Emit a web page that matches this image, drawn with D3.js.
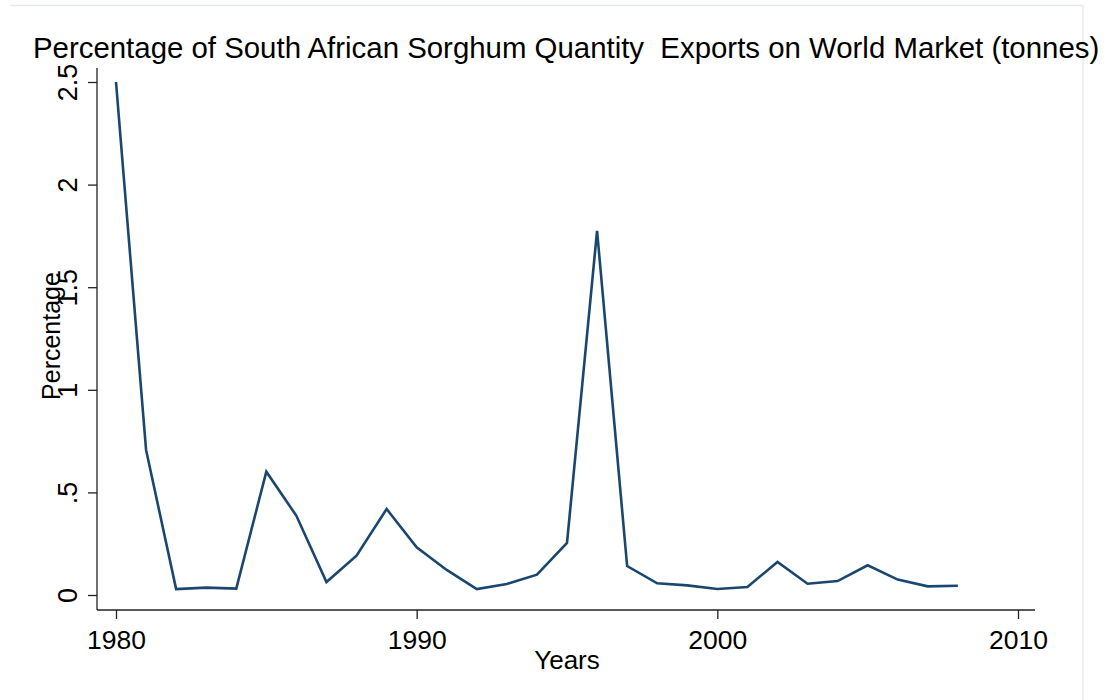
<!DOCTYPE html>
<html>
<head>
<meta charset="utf-8">
<script src="https://cdn.jsdelivr.net/npm/d3@7/dist/d3.min.js"></script>
<style>
  html, body { margin: 0; padding: 0; background: #fff; }
  svg { display: block; font-family: Arial, "Liberation Sans", sans-serif; }
  text { white-space: pre; }
</style>
</head>
<body>
<svg id="chart" width="1107" height="700"></svg>
<script>
// South African sorghum exports as a share of world exports (%), 1980-2008
const years = [1980, 1981, 1982, 1983, 1984, 1985, 1986, 1987, 1988, 1989,
               1990, 1991, 1992, 1993, 1994, 1995, 1996, 1997, 1998, 1999,
               2000, 2001, 2002, 2003, 2004, 2005, 2006, 2007, 2008];
const percentage = [2.50, 0.707, 0.029, 0.036, 0.031, 0.601, 0.386, 0.063, 0.192, 0.419,
                    0.232, 0.122, 0.029, 0.054, 0.099, 0.254, 1.775, 0.141, 0.057, 0.047,
                    0.029, 0.039, 0.161, 0.055, 0.068, 0.145, 0.075, 0.042, 0.045];
const xTicks = [1980, 1990, 2000, 2010];
const yTicks = [0, 0.5, 1, 1.5, 2, 2.5];
const yTickLabels = ["0", ".5", "1", "1.5", "2", "2.5"];

const titleText = "Percentage of South African Sorghum Quantity  Exports on World Market (tonnes)";
const xTitle = "Years";
const yTitle = "Percentage";

const svg = d3.select("#chart");

// faint outer frame of the graph region
svg.append("line").attr("x1", 10).attr("x2", 1083).attr("y1", 5.5).attr("y2", 5.5)
  .attr("stroke", "#e3ebf0").attr("stroke-width", 1.5);
svg.append("line").attr("x1", 1083).attr("x2", 1083).attr("y1", 5).attr("y2", 700)
  .attr("stroke", "#e3ebf0").attr("stroke-width", 1.5);

const x = d3.scaleLinear().domain([1980, 2010]).range([116, 1018]);
const y = d3.scaleLinear().domain([0, 2.5]).range([595, 82]);

const axisX = 97;   // position of the y axis line
const axisY = 610;  // position of the x axis line

// x axis
const gx = svg.append("g").attr("transform", `translate(0,${axisY})`);
gx.append("line").attr("x1", axisX).attr("x2", 1035).attr("y1", 0).attr("y2", 0)
  .attr("stroke", "#222").attr("stroke-width", 1.3);
gx.call(d3.axisBottom(x).tickValues(xTicks).tickFormat(d3.format("d")).tickSize(9).tickPadding(11))
  .call(g => g.select(".domain").remove())
  .call(g => g.selectAll(".tick line").attr("stroke", "#222").attr("stroke-width", 1.3))
  .call(g => g.selectAll(".tick text").attr("font-size", 26.5).attr("fill", "#000")
    .attr("font-family", "Arial, 'Liberation Sans', sans-serif"));

// y axis
const gy = svg.append("g").attr("transform", `translate(${axisX},0)`);
gy.append("line").attr("x1", 0).attr("x2", 0).attr("y1", 68).attr("y2", axisY)
  .attr("stroke", "#222").attr("stroke-width", 1.3);
gy.call(d3.axisLeft(y).tickValues(yTicks).tickFormat((d, i) => yTickLabels[i]).tickSize(9).tickPadding(0))
  .call(g => g.select(".domain").remove())
  .call(g => g.selectAll(".tick line").attr("stroke", "#222").attr("stroke-width", 1.3))
  .call(g => g.selectAll(".tick text")
    .attr("font-size", 27).attr("fill", "#000")
    .attr("font-family", "Arial, 'Liberation Sans', sans-serif")
    .attr("x", 0).attr("dy", null)
    .attr("text-anchor", "middle")
    .attr("transform", "translate(-20,0) rotate(-90)"));

// data line
const line = d3.line()
  .x((d, i) => x(years[i]))
  .y(d => y(d));
svg.append("path")
  .datum(percentage)
  .attr("d", line)
  .attr("fill", "none")
  .attr("stroke", "#1a476f")
  .attr("stroke-width", 2.6)
  .attr("stroke-linejoin", "miter");

// titles
svg.append("text")
  .attr("x", 33).attr("y", 58)
  .attr("font-size", 29.4).attr("fill", "#000")
  .text(titleText);

svg.append("text")
  .attr("x", 567).attr("y", 669)
  .attr("text-anchor", "middle")
  .attr("font-size", 26).attr("fill", "#000")
  .text(xTitle);

svg.append("text")
  .attr("transform", "translate(60,336) rotate(-90)")
  .attr("text-anchor", "middle")
  .attr("font-size", 25).attr("fill", "#000")
  .text(yTitle);
</script>
</body>
</html>
